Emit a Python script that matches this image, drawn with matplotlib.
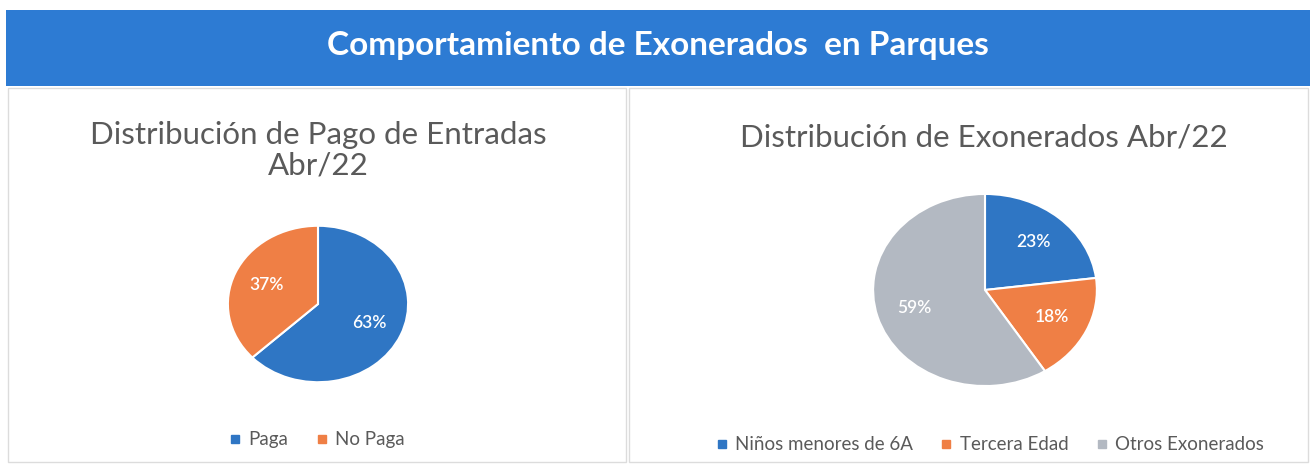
import matplotlib
matplotlib.use("Agg")
import matplotlib.pyplot as plt
from matplotlib.patches import Rectangle
from matplotlib.lines import Line2D

W, H = 1312, 466

# data
pago_labels = ["Paga", "No Paga"]
pago_values = [63, 37]
exo_labels = ["Niños menores de 6A", "Tercera Edad", "Otros Exonerados"]
exo_values = [23, 18, 59]

blue = "#2f76c4"
orange = "#ef7f45"
gray = "#b3b9c2"
txt = "#5a5a5a"

plt.rcParams['font.family'] = ['Lato', 'DejaVu Sans']

fig = plt.figure(figsize=(W / 100, H / 100), dpi=100)
fig.patch.set_facecolor("white")


def fx(px):
    return px / W


def fy(py):
    return 1 - py / H


# banner
fig.patches.append(Rectangle((fx(6), fy(86)), fx(1304), 76 / H, transform=fig.transFigure,
                             facecolor="#2d7bd3", edgecolor="none", zorder=0))
fig.text(fx(658), fy(46), "Comportamiento de Exonerados  en Parques", color="white",
         fontsize=24, fontweight="bold", ha="center", va="center")

# panel borders
for x0, x1 in [(8, 626), (629, 1308)]:
    fig.patches.append(Rectangle((fx(x0), fy(462)), fx(x1 - x0), 374 / H, transform=fig.transFigure,
                                 facecolor="none", edgecolor="#dcdcdc", linewidth=1, zorder=0))


def pie_axes(cx, cy, rx, ry, values, colors, pctd):
    ax = fig.add_axes([fx(cx - rx), fy(cy + ry), 2 * rx / W, 2 * ry / H])
    ax.pie(values, colors=colors, startangle=90, counterclock=False,
           autopct="%1.0f%%", pctdistance=pctd, radius=1,
           wedgeprops=dict(edgecolor="white", linewidth=1.5),
           textprops=dict(color="white", fontsize=12.5, fontweight="semibold"))
    ax.set_aspect("auto")
    ax.set_xlim(-1.01, 1.01)
    ax.set_ylim(-1.01, 1.01)
    return ax


pie_axes(318, 304, 91, 79, pago_values, [blue, orange], 0.62)
pie_axes(985, 290, 113, 97, exo_values, [blue, orange, gray], 0.66)

# titles
fig.text(fx(318), fy(150), "Distribución de Pago de Entradas\nAbr/22", color=txt,
         fontsize=22.5, ha="center", va="center", linespacing=1.12)
fig.text(fx(984), fy(137), "Distribución de Exonerados Abr/22", color=txt,
         fontsize=22.5, ha="center", va="center")


def legend(labels, colors, cx, cy):
    handles = [Line2D([], [], marker="s", linestyle="none", markersize=5.5, color=c) for c in colors]
    fig.legend(handles, labels, loc="center", bbox_to_anchor=(fx(cx), fy(cy)), ncol=len(labels),
               frameon=False, fontsize=13.5, labelcolor=txt, handletextpad=0.3,
               columnspacing=1.4, handlelength=0.8)


legend(pago_labels, [blue, orange], 316, 440)
legend(exo_labels, [blue, orange, gray], 989, 445)

fig.savefig("out.png", dpi=100)
